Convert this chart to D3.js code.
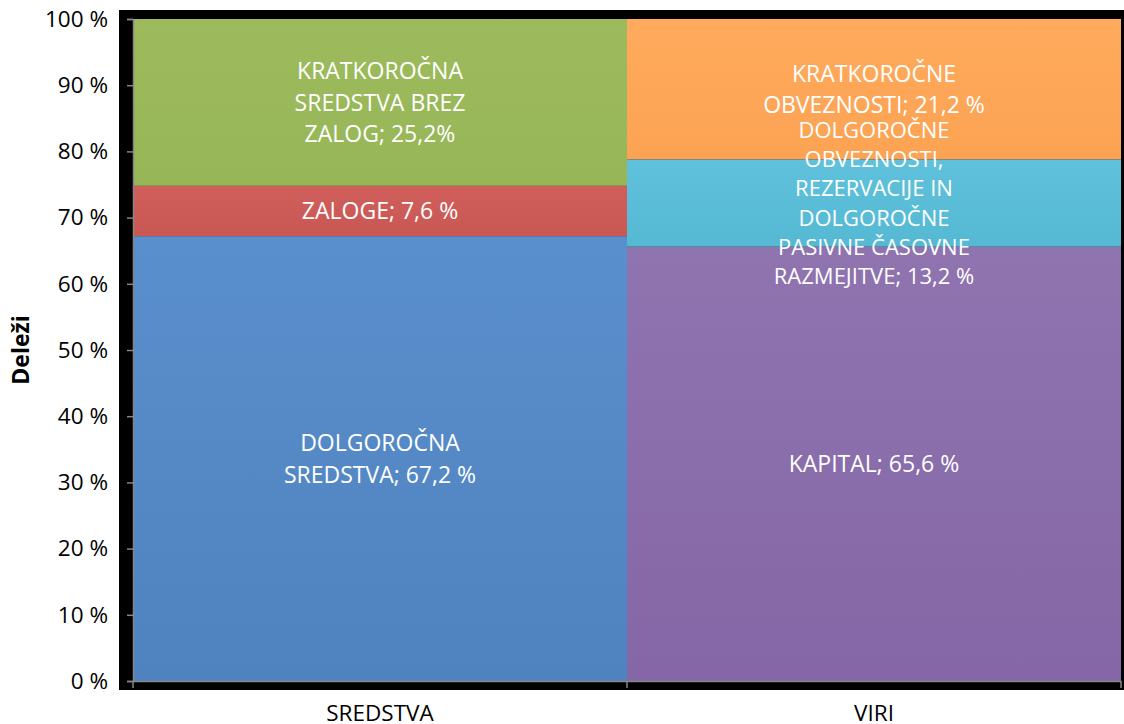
<!DOCTYPE html>
<html>
<head>
<meta charset="utf-8">
<script src="https://cdn.jsdelivr.net/npm/d3@7/dist/d3.min.js"></script>
<style>
  body { margin: 0; background: #fff; }
  svg { display: block; font-family: "Open Sans", "Noto Sans", sans-serif; }
</style>
</head>
<body>
<div id="chart"></div>
<script>
// categories (bars) and stacked segments, bottom to top
const categories = ["SREDSTVA", "VIRI"];
const segSredstva = [
  { name: "dolg", value: 67.2, label: ["DOLGOROČNA", "SREDSTVA; 67,2 %"], color: ["#5a8fcd", "#4f83bf"] },
  { name: "zal", value: 7.6, label: ["ZALOGE; 7,6 %"], color: ["#d05f5c", "#c95855"] },
  { name: "krat", value: 25.2, label: ["KRATKOROČNA", "SREDSTVA BREZ", "ZALOG; 25,2%"], color: ["#9dbb5d", "#97b658"] }
];
const segViri = [
  { name: "kap", value: 65.6, label: ["KAPITAL; 65,6 %"], color: ["#8f74b0", "#8566a6"] },
  { name: "dolgo", value: 13.2, label: ["DOLGOROČNE", "OBVEZNOSTI,", "REZERVACIJE IN", "DOLGOROČNE", "PASIVNE ČASOVNE", "RAZMEJITVE; 13,2 %"], color: ["#5fc1db", "#56b9d3"], small: true },
  { name: "kratko", value: 21.2, label: ["KRATKOROČNE", "OBVEZNOSTI; 21,2 %"], color: ["#ffaa5d", "#fca353"] }
];
const yTicks = [0, 10, 20, 30, 40, 50, 60, 70, 80, 90, 100];
const yTitle = "Deleži";

const width = 1124, height = 724;
const plot = { left: 133, right: 1121, top: 19, bottom: 681 };

const svg = d3.select("#chart").append("svg")
  .attr("width", width).attr("height", height);

const defs = svg.append("defs");

// black frame behind the plot area
svg.append("rect")
  .attr("x", 119).attr("y", 10)
  .attr("width", 1124 - 119).attr("height", 690 - 10)
  .attr("fill", "#000");

const x = d3.scaleBand().domain(categories).range([plot.left, plot.right]).padding(0);
const y = d3.scaleLinear().domain([0, 100]).range([plot.bottom, plot.top]);

// build stacked segments with their extents
const segments = [];
[segSredstva, segViri].forEach((segs, ci) => {
  let base = 0;
  segs.forEach((s) => {
    segments.push({ ...s, cat: categories[ci], y0: base, y1: base + s.value });
    base += s.value;
  });
});

const barLayer = svg.append("g");
const labelLayer = svg.append("g");

segments.forEach((s) => {
  const gid = "grad-" + s.name;
  const gr = defs.append("linearGradient").attr("id", gid)
    .attr("x1", 0).attr("y1", 0).attr("x2", 0).attr("y2", 1);
  gr.append("stop").attr("offset", "0%").attr("stop-color", s.color[0]);
  gr.append("stop").attr("offset", "100%").attr("stop-color", s.color[1]);

  barLayer.append("rect")
    .attr("x", x(s.cat))
    .attr("y", y(s.y1))
    .attr("width", x.bandwidth())
    .attr("height", y(s.y0) - y(s.y1))
    .attr("fill", `url(#${gid})`);

  const cx = x(s.cat) + x.bandwidth() / 2;
  const cy = (y(s.y0) + y(s.y1)) / 2;
  const fs = s.small ? 22 : 23;
  const lh = s.small ? 29.2 : 31.5;
  const n = s.label.length;
  labelLayer.append("text")
    .attr("text-anchor", "middle")
    .attr("fill", "#fff")
    .attr("font-size", fs)
    .selectAll("tspan")
    .data(s.label)
    .join("tspan")
    .attr("x", cx)
    .attr("y", (d, i) => cy + (i - (n - 1) / 2) * lh + fs * 0.36)
    .text((d) => d);
});

// axes (grey)
const axisColor = "#868686";
const yAxis = d3.axisLeft(y).tickValues(yTicks).tickSize(6).tickFormat((d) => `${d} %`);
const gy = svg.append("g").attr("transform", `translate(${plot.left},0)`).call(yAxis);
gy.select(".domain").attr("stroke", axisColor).attr("stroke-width", 1.5);
gy.selectAll(".tick line").attr("stroke", axisColor).attr("stroke-width", 1.5);
gy.selectAll(".tick text")
  .attr("x", -25)
  .attr("fill", "#000")
  .attr("font-size", 22.5)
  .attr("font-family", "'Open Sans', 'Noto Sans', sans-serif");

const xAxis = d3.axisBottom(x).tickSize(0).tickFormat((d) => d);
const gx = svg.append("g").attr("transform", `translate(0,${plot.bottom})`).call(xAxis);
gx.select(".domain").attr("stroke", axisColor).attr("stroke-width", 1.5);
gx.selectAll(".tick text")
  .attr("y", 40)
  .attr("dy", 0)
  .attr("fill", "#000")
  .attr("font-size", 22.5)
  .attr("font-family", "'Open Sans', 'Noto Sans', sans-serif");

// category boundary ticks on the bottom axis
[plot.left, x("VIRI"), plot.right].forEach((tx) => {
  svg.append("line")
    .attr("x1", tx).attr("x2", tx)
    .attr("y1", plot.bottom).attr("y2", plot.bottom + 7)
    .attr("stroke", axisColor).attr("stroke-width", 1.5);
});

svg.append("text")
  .attr("transform", `translate(29,${(plot.top + plot.bottom) / 2}) rotate(-90)`)
  .attr("text-anchor", "middle")
  .attr("font-size", 23)
  .attr("font-weight", "bold")
  .attr("fill", "#000")
  .text(yTitle);
</script>
</body>
</html>
